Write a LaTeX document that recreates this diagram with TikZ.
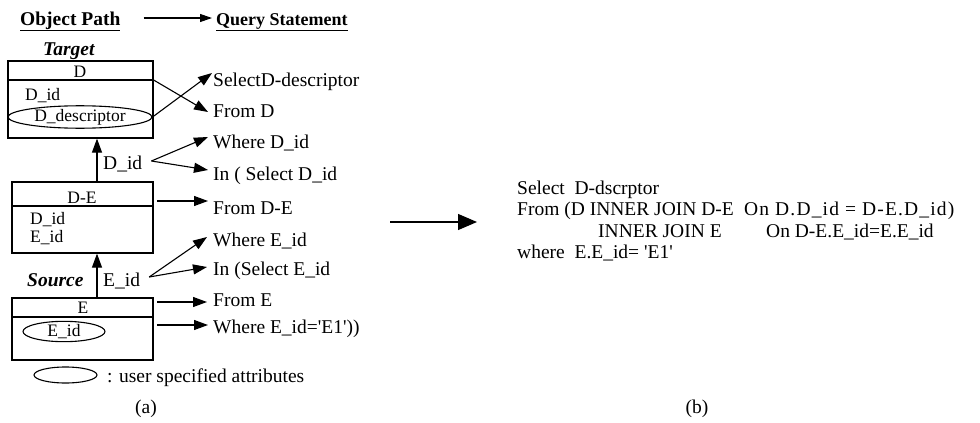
\documentclass[tikz,border=0pt]{standalone}
\usepackage{fontspec}
\setmainfont{Liberation Serif}
\usetikzlibrary{arrows.meta,calc,shapes.geometric}
\begin{document}
\begin{tikzpicture}[x=1pt,y=-1pt,
  txt/.style={inner sep=0pt, anchor=base west, font=\fontsize{19.5}{22}\selectfont},
  small/.style={inner sep=0pt, anchor=base west, font=\fontsize{17.5}{20}\selectfont},
  head/.style={inner sep=0pt, anchor=base west, font=\bfseries\fontsize{19.5}{22}\selectfont},
  tbl/.style={draw, line width=1.2pt, inner sep=0pt},
  attr/.style={draw, ellipse, line width=1.1pt, inner sep=0pt, font=\fontsize{17.5}{20}\selectfont},
  arr/.style={line width=1.1pt, -{Triangle[length=14pt,width=10pt]}},
  bigarr/.style={line width=1.3pt, -{Triangle[length=19pt,width=16pt]}},
  rule/.style={line width=1.2pt}]
\useasboundingbox (0,0) rectangle (980,423);

% ---- headings ----
\node[head] (op) at (20,25) {\underline{Object Path}};
\node[head, font=\bfseries\fontsize{18}{22}\selectfont] (qs) at (216,25) {\underline{Query Statement}};
\draw[arr, -{Triangle[length=12pt,width=8pt]}] ($(op.base east)+(23,-7)$) -- ($(qs.base west)+(-4,-7)$);
\node[head, font=\bfseries\itshape\fontsize{19.5}{22}\selectfont] (tg) at (43,55) {Target};

% ---- table D ----
\node[tbl, minimum width=145pt, minimum height=77pt] (D) at (80.5,99.5) {};
\coordinate (Dh) at (0,80);
\draw[rule] (D.west |- Dh) -- (D.east |- Dh);
\node[small, anchor=base] (Dn) at (80,77) {D};
\node[small] (Did) at (25,100) {D\_id};
\node[attr, minimum width=144pt, minimum height=22pt] (Ddesc) at (80,117) {D\_descriptor};

% ---- table D-E ----
\node[tbl, minimum width=141pt, minimum height=71pt] (DE) at (82.5,217.5) {};
\coordinate (DEh) at (0,206);
\draw[rule] (DE.west |- DEh) -- (DE.east |- DEh);
\node[small, anchor=base] (DEn) at (82,203) {D-E};
\node[small] (DEd) at (30,224) {D\_id};
\node[small] (DEe) at (30,242) {E\_id};

% ---- table E ----
\node[tbl, minimum width=141pt, minimum height=62pt] (E) at (82.5,329) {};
\coordinate (Eh) at (0,317);
\draw[rule] (E.west |- Eh) -- (E.east |- Eh);
\node[small, anchor=base] (En) at (83,313) {E};
\node[attr, minimum width=82pt, minimum height=17pt] (Eid) at (64,331.5) {E\_id};

% ---- path links ----
\coordinate (vx) at (97,0);
\draw[arr] (DE.north -| vx) -- (D.south -| vx);
\draw[arr] (E.north -| vx) -- (DE.south -| vx);
\node[txt] (lDid) at (103,169) {D\_id};
\node[txt] (lEid) at (103,286) {E\_id};
\node[head, font=\bfseries\itshape\fontsize{19.5}{22}\selectfont] (src) at (27,286) {Source};

% ---- query statement parts ----
\node[txt] (q1) at (213,86) {SelectD-descriptor};
\node[txt] (q2) at (213,117) {From D};
\node[txt] (q3) at (213,148) {Where D\_id};
\node[txt] (q4) at (213,180) {In ( Select D\_id};
\node[txt] (q5) at (213,214) {From D-E};
\node[txt] (q6) at (213,246) {Where E\_id};
\node[txt] (q7) at (213,275) {In (Select E\_id};
\node[txt] (q8) at (213,306) {From E};
\node[txt] (q9) at (213,333) {Where E\_id=\textquotesingle E1\textquotesingle))};

\draw[arr] (D.east |- Dh) -- ($(q2.base west)+(-5,-5)$);
\draw[arr] (Ddesc.east) -- ($(q1.base west)+(-1,-13)$);
\coordinate (dsrc) at ($(lDid.base east)+(9,-8)$);
\draw[arr] (dsrc) -- ($(q3.base west)+(-5,-11)$);
\draw[arr] (dsrc) -- ($(q4.base west)+(-5,-10)$);
\draw[arr] ($(q5.base west)+(-56,-13)$) -- ($(q5.base west)+(-5,-13)$);
\coordinate (esrc) at ($(lEid.base east)+(9,-9)$);
\draw[arr] (esrc) -- ($(q6.base west)+(-6,-9)$);
\draw[arr] (esrc) -- ($(q7.base west)+(-6,-8)$);
\draw[arr] ($(q8.base west)+(-56,-4)$) -- ($(q8.base west)+(-6,-4)$);
\draw[arr] ($(q9.base west)+(-56,-8)$) -- ($(q9.base west)+(-5,-8)$);

% ---- legend ----
\node[attr, minimum width=63pt, minimum height=16pt] (lg) at (65.5,375) {};
\node[txt] (lgt) at (107,382) {: user specified attributes};
\node[txt, anchor=base] (capa) at (146,413) {(a)};

% ---- joined SQL ----
\node[txt] (r1) at (517,194) {Select\ \ D-dscrptor};
\node[txt] (r2a) at (517,215) {From (D INNER JOIN D-E};
\node[txt] (r2b) at (744,215) {\addfontfeature{LetterSpace=6}On D.D\_id = D-E.D\_id)};
\node[txt] (r3a) at (598,237) {INNER JOIN E};
\node[txt] (r3b) at (766,237) {On D-E.E\_id=E.E\_id};
\node[txt] (r4) at (517,258) {where\ \ E.E\_id= \textquotesingle E1\textquotesingle};
\draw[bigarr] ($(r2a.base west)+(-127,7)$) -- ($(r2a.base west)+(-40,7)$);
\node[txt, anchor=base] (capb) at (697,413) {(b)};
\end{tikzpicture}
\end{document}
